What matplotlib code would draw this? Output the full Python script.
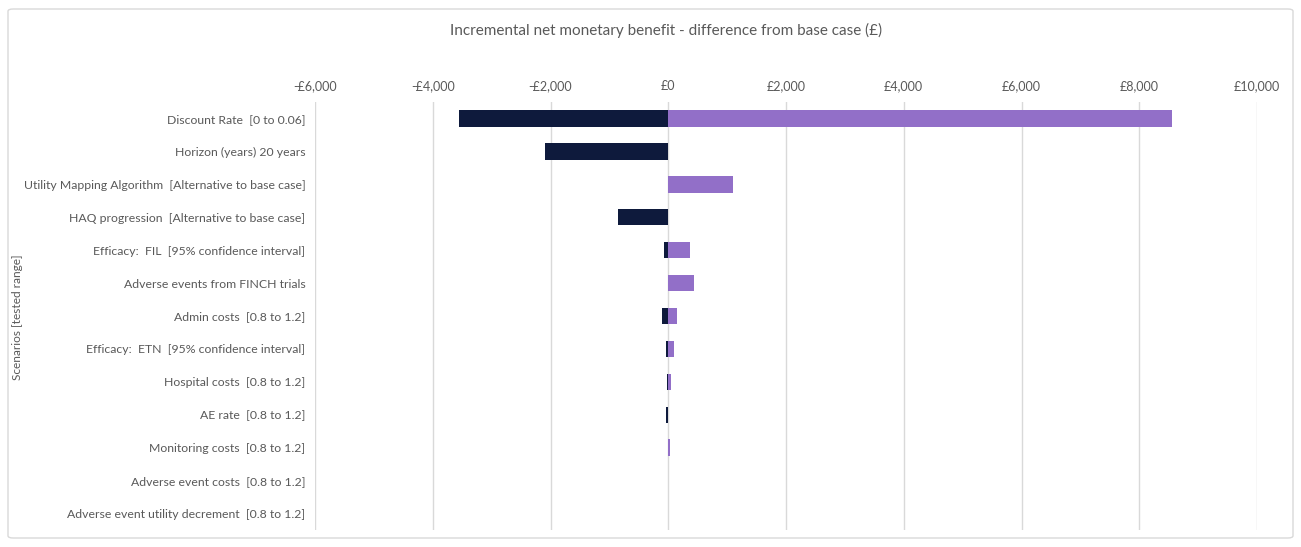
import matplotlib
matplotlib.use("Agg")
import matplotlib.pyplot as plt
from matplotlib.patches import FancyBboxPatch
from matplotlib.ticker import FuncFormatter

plt.rcParams['font.family'] = ['Lato', 'DejaVu Sans']

categories = [
    "Discount Rate  [0 to 0.06]",
    "Horizon (years) 20 years",
    "Utility Mapping Algorithm  [Alternative to base case]",
    "HAQ progression  [Alternative to base case]",
    "Efficacy:  FIL  [95% confidence interval]",
    "Adverse events from FINCH trials",
    "Admin costs  [0.8 to 1.2]",
    "Efficacy:  ETN  [95% confidence interval]",
    "Hospital costs  [0.8 to 1.2]",
    "AE rate  [0.8 to 1.2]",
    "Monitoring costs  [0.8 to 1.2]",
    "Adverse event costs  [0.8 to 1.2]",
    "Adverse event utility decrement  [0.8 to 1.2]",
]
low_values = [-3550, -2100, 0, -850, -70, 0, -110, -35, -20, -35, -5, 0, 0]
high_values = [8550, 0, 1100, 0, 375, 440, 150, 105, 45, 0, 25, 0, 0]
xticks = [-6000, -4000, -2000, 0, 2000, 4000, 6000, 8000, 10000]

dark = "#0e1a3c"
purple = "#926fc8"
text_col = "#595959"

fig = plt.figure(figsize=(13.01, 5.47), dpi=100)
W, H = 1301, 547

# outer chart border
border = FancyBboxPatch((8 / W, 9 / H), (1293 - 8) / W, (538 - 9) / H,
                        boxstyle="round,pad=0,rounding_size=0.004",
                        transform=fig.transFigure, fill=False,
                        edgecolor="#d9d9d9", linewidth=1.0)
fig.patches.append(border)

ax = fig.add_axes([315 / W, 1 - 530 / H, (1257 - 315) / W, (530 - 102) / H])
y = list(range(len(categories)))
ax.barh(y, high_values, height=0.5, color=purple, zorder=3)
ax.barh(y, low_values, height=0.5, color=dark, zorder=3)

ax.set_xlim(-6000, 10000)
ax.set_ylim(len(categories) - 0.5, -0.5)
ax.set_xticks(xticks)

def fmt(v, pos):
    v = int(round(v))
    if v < 0:
        return "-£{:,}".format(-v)
    return "£{:,}".format(v)

ax.xaxis.set_major_formatter(FuncFormatter(fmt))
ax.xaxis.tick_top()
ax.tick_params(axis='x', length=0, pad=7, labelsize=9, labelcolor=text_col)
ax.set_yticks(y)
ax.set_yticklabels(categories)
ax.tick_params(axis='y', length=0, pad=7, labelsize=8.8, labelcolor=text_col)
ax.grid(axis='x', color="#d9d9d9", linewidth=1.0, zorder=0)
ax.set_axisbelow(True)
for s in ax.spines.values():
    s.set_visible(False)

fig.text(666 / W, 1 - 30 / H, "Incremental net monetary benefit - difference from base case (£)",
         ha='center', va='center', fontsize=11, color=text_col)
fig.text(18 / W, 1 - 317 / H, "Scenarios [tested range]", rotation=90,
         ha='center', va='center', fontsize=8.6, color=text_col)

fig.savefig("out.png", dpi=100)
